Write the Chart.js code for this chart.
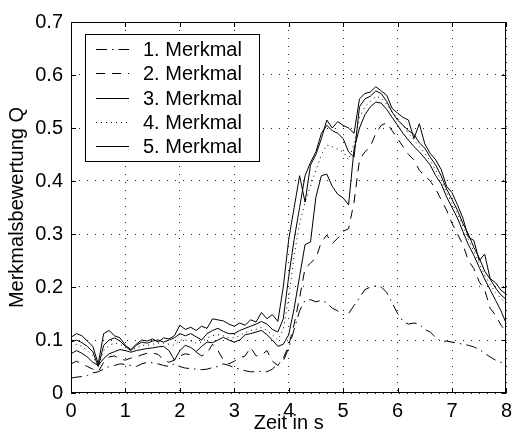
<!DOCTYPE html>
<html>
<head>
<meta charset="utf-8">
<script src="https://cdn.jsdelivr.net/npm/chart.js@4/dist/chart.umd.min.js"></script>
<style>
  html, body { margin: 0; padding: 0; background: #fff; }
</style>
</head>
<body>
<canvas id="c" width="518" height="435"></canvas>
<script>
// Zeitachse in s (Abtastung 0.1 s)
const zeit = [
  0.0, 0.1, 0.2, 0.3, 0.4, 0.5, 0.6, 0.7, 0.8, 0.9,
  1.0, 1.1, 1.2, 1.3, 1.4, 1.5, 1.6, 1.7, 1.8, 1.9,
  2.0, 2.1, 2.2, 2.3, 2.4, 2.5, 2.6, 2.7, 2.8, 2.9,
  3.0, 3.1, 3.2, 3.3, 3.4, 3.5, 3.6, 3.7, 3.8, 3.9,
  4.0, 4.1, 4.2, 4.3, 4.4, 4.5, 4.6, 4.7, 4.8, 4.9,
  5.0, 5.1, 5.2, 5.3, 5.4, 5.5, 5.6, 5.7, 5.8, 5.9,
  6.0, 6.1, 6.2, 6.3, 6.4, 6.5, 6.6, 6.7, 6.8, 6.9,
  7.0, 7.1, 7.2, 7.3, 7.4, 7.5, 7.6, 7.7, 7.8, 7.9,
  8.0
];

// Merkmalsbewertung Q je Merkmal
const merkmal1 = [
  0.028, 0.030, 0.031, 0.033, 0.038, 0.040, 0.045, 0.050, 0.052, 0.055,
  0.054, 0.052, 0.050, 0.055, 0.058, 0.057, 0.055, 0.052, 0.050, 0.055,
  0.050, 0.047, 0.046, 0.045, 0.044, 0.045, 0.048, 0.050, 0.055, 0.052,
  0.048, 0.045, 0.042, 0.040, 0.040, 0.041, 0.040, 0.045, 0.055, 0.060,
  0.085, 0.120, 0.155, 0.175, 0.176, 0.172, 0.175, 0.170, 0.160, 0.155,
  0.148, 0.150, 0.165, 0.180, 0.195, 0.200, 0.202, 0.200, 0.190, 0.170,
  0.150, 0.135, 0.130, 0.132, 0.130, 0.120, 0.115, 0.105, 0.097, 0.098,
  0.096, 0.094, 0.092, 0.090, 0.087, 0.082, 0.075, 0.068, 0.062, 0.058,
  0.052
];
const merkmal2 = [
  0.055, 0.060, 0.055, 0.050, 0.045, 0.040, 0.058, 0.068, 0.070, 0.064,
  0.062, 0.066, 0.068, 0.072, 0.075, 0.075, 0.073, 0.062, 0.058, 0.062,
  0.070, 0.074, 0.072, 0.077, 0.070, 0.075, 0.092, 0.080, 0.062, 0.055,
  0.060, 0.066, 0.070, 0.086, 0.070, 0.072, 0.080, 0.060, 0.052, 0.065,
  0.090, 0.130, 0.180, 0.235, 0.245, 0.255, 0.285, 0.298, 0.282, 0.292,
  0.305, 0.310, 0.360, 0.440, 0.455, 0.465, 0.490, 0.505, 0.510, 0.495,
  0.480, 0.465, 0.450, 0.440, 0.420, 0.410, 0.400, 0.385, 0.365, 0.345,
  0.320, 0.300, 0.280, 0.250, 0.235, 0.210, 0.195, 0.160, 0.147, 0.128,
  0.115
];
const merkmal3 = [
  0.105, 0.112, 0.108, 0.098, 0.088, 0.055, 0.112, 0.118, 0.108, 0.104,
  0.090, 0.082, 0.092, 0.100, 0.098, 0.102, 0.096, 0.104, 0.102, 0.108,
  0.128, 0.120, 0.124, 0.118, 0.126, 0.122, 0.140, 0.138, 0.136, 0.130,
  0.126, 0.132, 0.128, 0.138, 0.134, 0.152, 0.140, 0.148, 0.135, 0.200,
  0.290, 0.350, 0.410, 0.360, 0.430, 0.450, 0.480, 0.515, 0.500, 0.512,
  0.505, 0.500, 0.490, 0.555, 0.565, 0.568, 0.578, 0.570, 0.562, 0.537,
  0.528, 0.520, 0.515, 0.480, 0.508, 0.470, 0.452, 0.440, 0.422, 0.390,
  0.378, 0.355, 0.330, 0.294, 0.288, 0.250, 0.262, 0.216, 0.208, 0.194,
  0.186
];
const merkmal4 = [
  0.088, 0.092, 0.088, 0.080, 0.070, 0.050, 0.080, 0.090, 0.094, 0.092,
  0.086, 0.080, 0.085, 0.090, 0.090, 0.092, 0.094, 0.094, 0.092, 0.090,
  0.100, 0.100, 0.098, 0.094, 0.096, 0.104, 0.108, 0.110, 0.108, 0.104,
  0.104, 0.108, 0.114, 0.118, 0.120, 0.124, 0.118, 0.110, 0.100, 0.120,
  0.180, 0.260, 0.320, 0.360, 0.390, 0.420, 0.450, 0.468, 0.465, 0.460,
  0.455, 0.440, 0.470, 0.520, 0.540, 0.550, 0.560, 0.556, 0.545, 0.530,
  0.518, 0.505, 0.490, 0.478, 0.465, 0.452, 0.438, 0.420, 0.402, 0.378,
  0.358, 0.338, 0.315, 0.290, 0.268, 0.245, 0.222, 0.205, 0.190, 0.178,
  0.166
];
const merkmal5 = [
  0.074, 0.080, 0.075, 0.068, 0.058, 0.052, 0.065, 0.074, 0.078, 0.082,
  0.080, 0.077, 0.080, 0.082, 0.084, 0.085, 0.087, 0.088, 0.080, 0.062,
  0.080, 0.090, 0.086, 0.078, 0.088, 0.096, 0.095, 0.100, 0.105, 0.100,
  0.096, 0.100, 0.110, 0.112, 0.115, 0.118, 0.110, 0.100, 0.088, 0.092,
  0.110, 0.160, 0.220, 0.280, 0.285, 0.370, 0.410, 0.413, 0.390, 0.375,
  0.368, 0.355, 0.460, 0.500, 0.525, 0.540, 0.549, 0.547, 0.535, 0.520,
  0.505, 0.490, 0.477, 0.465, 0.455, 0.443, 0.430, 0.410, 0.395, 0.370,
  0.350, 0.330, 0.305, 0.280, 0.260, 0.237, 0.215, 0.195, 0.175, 0.155,
  0.130
];
// zweiter Kanal zu Merkmal 3 (ohne Legendeneintrag)
const merkmal3Kanal2 = [
  0.096, 0.100, 0.095, 0.088, 0.078, 0.050, 0.090, 0.100, 0.104, 0.098,
  0.088, 0.080, 0.090, 0.096, 0.094, 0.098, 0.100, 0.096, 0.100, 0.104,
  0.112, 0.108, 0.112, 0.106, 0.100, 0.112, 0.118, 0.122, 0.116, 0.112,
  0.112, 0.118, 0.122, 0.126, 0.130, 0.135, 0.130, 0.120, 0.115, 0.140,
  0.220, 0.290, 0.350, 0.410, 0.435, 0.455, 0.490, 0.505, 0.495, 0.490,
  0.480, 0.455, 0.445, 0.540, 0.555, 0.560, 0.570, 0.565, 0.550, 0.530,
  0.515, 0.505, 0.495, 0.488, 0.472, 0.462, 0.445, 0.430, 0.410, 0.385,
  0.365, 0.345, 0.320, 0.300, 0.275, 0.255, 0.230, 0.215, 0.198, 0.185,
  0.176
];

const xTicks = [0, 1, 2, 3, 4, 5, 6, 7, 8];
const xTickLabels = ['0', '1', '2', '3', '4', '5', '6', '7', '8'];
const yTicks = [0, 0.1, 0.2, 0.3, 0.4, 0.5, 0.6, 0.7];
const yTickLabels = ['0', '0.1', '0.2', '0.3', '0.4', '0.5', '0.6', '0.7'];

const FONT = '"Liberation Sans", Arial, Helvetica, sans-serif';
Chart.defaults.font.family = FONT;
Chart.defaults.color = '#000';

const punkte = werte => zeit.map((t, i) => ({ x: t, y: werte[i] }));
const linie = (label, werte, dash) => ({
  label,
  data: punkte(werte),
  borderColor: '#000',
  borderWidth: 1,
  borderDash: dash,
  pointRadius: 0,
  tension: 0,
  fill: false
});

const datasets = [
  linie('1. Merkmal', merkmal1, [11, 5, 1.5, 5]),
  linie('2. Merkmal', merkmal2, [9, 7]),
  linie('3. Merkmal', merkmal3, []),
  linie('4. Merkmal', merkmal4, [1, 4]),
  linie('5. Merkmal', merkmal5, []),
  linie('', merkmal3Kanal2, [])
];

// Rahmen, nach innen zeigende Teilstriche und Legende mit Kasten
const rahmenUndLegende = {
  id: 'rahmenUndLegende',
  afterDatasetsDraw(chart) {
    const { ctx, chartArea: a, scales } = chart;
    ctx.save();
    ctx.strokeStyle = '#000';
    ctx.lineWidth = 1;
    ctx.setLineDash([]);
    ctx.strokeRect(Math.round(a.left) + 0.5, Math.round(a.top) + 0.5,
                   Math.round(a.right - a.left) - 1, Math.round(a.bottom - a.top) - 1);

    const L = 5;
    ctx.beginPath();
    xTicks.forEach(v => {
      const px = Math.round(scales.x.getPixelForValue(v)) + 0.5;
      ctx.moveTo(px, a.bottom); ctx.lineTo(px, a.bottom - L);
      ctx.moveTo(px, a.top); ctx.lineTo(px, a.top + L);
    });
    yTicks.forEach(v => {
      const py = Math.round(scales.y.getPixelForValue(v)) + 0.5;
      ctx.moveTo(a.left, py); ctx.lineTo(a.left + L, py);
      ctx.moveTo(a.right, py); ctx.lineTo(a.right - L, py);
    });
    ctx.stroke();

    // Legende
    const x0 = Math.round(a.left) + 14, y0 = Math.round(a.top) + 12, w = 174, h = 127;
    ctx.fillStyle = '#fff';
    ctx.fillRect(x0, y0, w, h);
    ctx.strokeRect(x0 + 0.5, y0 + 0.5, w, h);
    ctx.font = '20px ' + FONT;
    ctx.textBaseline = 'middle';
    ctx.textAlign = 'left';
    chart.data.datasets.filter(d => d.label).forEach((d, i) => {
      const y = Math.round(y0 + 15 + i * 24.3) + 0.5;
      ctx.setLineDash(d.borderDash || []);
      ctx.lineWidth = d.borderWidth;
      ctx.strokeStyle = d.borderColor;
      ctx.beginPath();
      ctx.moveTo(x0 + 11, y);
      ctx.lineTo(x0 + 44, y);
      ctx.stroke();
      ctx.setLineDash([]);
      ctx.fillStyle = '#000';
      ctx.fillText(d.label, x0 + 58, y + 1);
    });
    ctx.restore();
  }
};

new Chart(document.getElementById('c'), {
  type: 'line',
  data: { datasets },
  plugins: [rahmenUndLegende],
  options: {
    responsive: false,
    animation: false,
    events: [],
    layout: { padding: { left: 0, top: 22, right: 6, bottom: 0 } },
    plugins: { legend: { display: false }, tooltip: { enabled: false } },
    scales: {
      x: {
        type: 'linear',
        min: 0,
        max: 8,
        afterBuildTicks: s => { s.ticks = xTicks.map(v => ({ value: v })); },
        afterFit: s => { s.height = 42; },
        ticks: {
          autoSkip: false,
          maxRotation: 0,
          padding: 6,
          font: { size: 20 },
          callback: (v, i) => xTickLabels[i]
        },
        grid: { color: '#222', lineWidth: 1, drawTicks: false },
        border: { display: false, dash: [1, 7] },
        title: { display: true, text: 'Zeit in s', font: { size: 20 }, padding: { top: 0, bottom: 0 } }
      },
      y: {
        type: 'linear',
        min: 0,
        max: 0.7,
        afterBuildTicks: s => { s.ticks = yTicks.map(v => ({ value: v })); },
        afterFit: s => { s.width = 71; },
        ticks: {
          autoSkip: false,
          padding: 8,
          font: { size: 20 },
          callback: (v, i) => yTickLabels[i]
        },
        grid: { color: '#222', lineWidth: 1, drawTicks: false },
        border: { display: false, dash: [1, 7] },
        title: { display: true, text: 'Merkmalsbewertung Q', font: { size: 20 }, padding: { top: 5, bottom: 0 } }
      }
    }
  }
});
</script>
</body>
</html>
